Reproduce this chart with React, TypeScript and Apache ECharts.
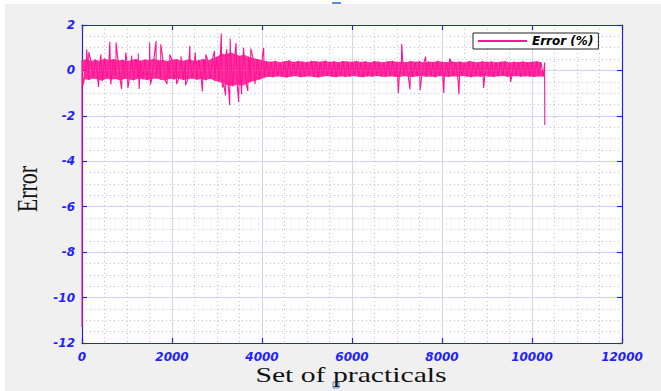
import React, { useEffect, useRef } from "react";
import * as echarts from "echarts";

// ---- data ----
const xTicks = { min: 0, max: 12000, interval: 2000 };
const yTicks = { min: -12, max: 2, interval: 2 };

const seriesName = "Error (%)";
const startValue = -11.3; // first sample at x = 0
const endX = 10280;
const endTop = 0.35;
const endValue = -2.4; // last sample

const sampleStep = 100; // envelope samples every 100 practicals
// upper edge of the noisy band (x = 0, 100, ..., 10200)
const bandUpper = [
  0.45, 0.5, 0.42, 0.48, 0.4, 0.52, 0.45, 0.5, 0.44, 0.47,
  0.4, 0.46, 0.5, 0.43, 0.48, 0.45, 0.52, 0.44, 0.46, 0.41,
  0.47, 0.5, 0.43, 0.45, 0.49, 0.42, 0.46, 0.5, 0.44, 0.52,
  0.6, 0.75, 0.7, 0.8, 0.72, 0.65, 0.7, 0.6, 0.55, 0.5,
  0.45, 0.4, 0.38, 0.42, 0.36, 0.4, 0.44, 0.37, 0.41, 0.39,
  0.36, 0.42, 0.4, 0.38, 0.43, 0.37, 0.4, 0.36, 0.41, 0.39,
  0.38, 0.42, 0.37, 0.4, 0.35, 0.41, 0.38, 0.36, 0.4, 0.42,
  0.37, 0.39, 0.36, 0.41, 0.38, 0.4, 0.35, 0.39, 0.37, 0.42,
  0.38, 0.36, 0.4, 0.37, 0.39, 0.35, 0.41, 0.38, 0.36, 0.4,
  0.37, 0.39, 0.36, 0.38, 0.4, 0.35, 0.38, 0.37, 0.39, 0.36,
  0.38, 0.4, 0.37,
];
// lower edge of the noisy band (x = 50, 150, ..., 10250)
const bandLower = [
  -0.38, -0.42, -0.35, -0.4, -0.45, -0.36, -0.41, -0.38, -0.44, -0.37,
  -0.4, -0.43, -0.36, -0.39, -0.42, -0.38, -0.35, -0.41, -0.44, -0.37,
  -0.4, -0.36, -0.42, -0.39, -0.35, -0.41, -0.38, -0.43, -0.37, -0.45,
  -0.5, -0.6, -0.65, -0.7, -0.62, -0.68, -0.6, -0.5, -0.45, -0.4,
  -0.32, -0.28, -0.3, -0.26, -0.29, -0.31, -0.27, -0.25, -0.3, -0.28,
  -0.26, -0.29, -0.31, -0.27, -0.24, -0.28, -0.3, -0.26, -0.29, -0.27,
  -0.25, -0.28, -0.3, -0.26, -0.28, -0.24, -0.27, -0.29, -0.26, -0.28,
  -0.3, -0.25, -0.27, -0.29, -0.26, -0.24, -0.28, -0.27, -0.3, -0.25,
  -0.27, -0.29, -0.26, -0.28, -0.24, -0.27, -0.3, -0.26, -0.28, -0.25,
  -0.27, -0.29, -0.26, -0.24, -0.28, -0.27, -0.25, -0.28, -0.26, -0.27,
  -0.29, -0.26, -0.28,
];
// isolated spikes
const spikeX = [
  104, 150, 420, 618, 758, 972, 1100, 1250, 1504, 1646, 1750, 1950, 2200, 2397, 2516, 2750, 2945,
  3095, 3215, 3292, 3423, 3591, 3750, 4037, 7104, 7636, 8170,
  30, 366, 640, 880, 1020, 1270, 1520, 1890, 2100, 2300, 2675, 3120, 3190, 3283, 3480, 3545,
  3684, 3844, 7030, 7290, 7513, 8040, 8376, 8925, 9525,
];
const spikeY = [
  0.93, 0.8, 0.7, 1.26, 1.23, 0.79, 0.65, 0.75, 1.23, 1.3, 1.15, 0.7, 0.62, 1.08, 0.79, 0.7, 0.86,
  1.63, 0.93, 1.4, 1.2, 1.0, 0.96, 1.0, 1.16, 0.61, 0.52,
  -0.62, -0.73, -0.62, -0.82, -0.77, -0.82, -0.62, -0.6, -0.6, -0.65, -0.93, -0.75, -1.1, -1.53,
  -1.39, -1.05, -0.9, -0.6, -0.99, -0.84, -0.87, -1.0, -1.05, -0.77, -0.5,
];

const PINK = "#ff1493";
const BLUE = "#1f1fff";

function buildMain(): number[][] {
  const pts: number[][] = [];
  bandUpper.forEach((v, i) => pts.push([i * sampleStep, v]));
  bandLower.forEach((v, i) => pts.push([i * sampleStep + sampleStep / 2, v]));
  spikeX.forEach((x, i) => pts.push([x, spikeY[i]]));
  pts.sort((a, b) => a[0] - b[0]);
  return [[0, startValue], ...pts, [endX, endTop], [endX + 5, endValue]];
}

export default function App() {
  const ref = useRef<HTMLDivElement>(null);
  useEffect(() => {
    if (!ref.current) return;
    const chart = echarts.init(ref.current, undefined, { renderer: "svg" });
    const labelStyle = {
      color: BLUE,
      fontFamily: "DejaVu Sans",
      fontWeight: "bold" as const,
      fontStyle: "italic" as const,
      fontSize: 12,
    };
    const axisCommon = {
      axisLine: { show: true, onZero: false, lineStyle: { color: BLUE, width: 1.2 } },
      axisTick: { show: true, inside: true, length: 5, lineStyle: { color: BLUE, width: 1.2 } },
    };
    const upperData = bandUpper.map((v, i) => [i * sampleStep, v]);
    const lowerData = bandLower.map((v, i) => [i * sampleStep + sampleStep / 2, v]);
    chart.setOption({
      animation: false,
      backgroundColor: "#ffffff",
      graphic: [
        { type: "rect", z: -100, shape: { x: 5, y: 4, width: 660, height: 390 }, style: { fill: "#f0f0f0" } },
        { type: "rect", shape: { x: 332, y: 2, width: 9, height: 2 }, style: { fill: "#5b8fd0" } },
        { type: "rect", shape: { x: 333, y: 382, width: 6, height: 6 }, style: { fill: "#cfe0f5", stroke: "#5b8fd0", lineWidth: 1 } },
        {
          type: "text",
          x: 351,
          y: 375,
          scaleX: 1.35,
          style: { text: "Set of practicals", fontFamily: "Liberation Serif", fontSize: 22, fill: "#111", align: "center", verticalAlign: "middle" },
        },
        {
          type: "text",
          x: 27,
          y: 189,
          rotation: Math.PI / 2,
          scaleY: 1.3,
          style: { text: "Error", fontFamily: "Liberation Serif", fontSize: 22, fill: "#111", align: "center", verticalAlign: "middle" },
        },
      ],
      grid: { left: 82, right: 39, top: 25, bottom: 48, show: true, backgroundColor: "#ffffff", borderWidth: 0 },
      legend: {
        data: [seriesName],
        left: 473,
        top: 33,
        padding: [2, 5, 2, 5],
        itemWidth: 49,
        itemHeight: 2,
        itemGap: 5,
        icon: "rect",
        backgroundColor: "#ffffff",
        borderColor: "#222",
        borderWidth: 1,
        borderRadius: 0,
        textStyle: { color: "#000", fontFamily: "DejaVu Sans", fontWeight: "bold", fontStyle: "italic", fontSize: 12 },
      },
      xAxis: [
        {
          type: "value",
          position: "bottom",
          min: xTicks.min,
          max: xTicks.max,
          interval: xTicks.interval,
          ...axisCommon,
          axisLabel: { ...labelStyle, margin: 8, formatter: (v: number) => String(v) },
          splitLine: { show: true, lineStyle: { color: "#d2d2f4", width: 1 } },
          minorTick: { show: false, splitNumber: 4 },
          minorSplitLine: { show: true, lineStyle: { color: "#c0c0ea", width: 1, type: [1, 3] } },
        },
        {
          type: "value",
          position: "top",
          min: xTicks.min,
          max: xTicks.max,
          interval: xTicks.interval,
          ...axisCommon,
          axisLabel: { show: false },
          splitLine: { show: false },
        },
      ],
      yAxis: [
        {
          type: "value",
          position: "left",
          min: yTicks.min,
          max: yTicks.max,
          interval: yTicks.interval,
          ...axisCommon,
          axisLabel: { ...labelStyle, margin: 7, formatter: (v: number) => String(v) },
          splitLine: { show: true, lineStyle: { color: "#d2d2f4", width: 1 } },
          minorTick: { show: false, splitNumber: 4 },
          minorSplitLine: { show: true, lineStyle: { color: "#c0c0ea", width: 1, type: [1, 3] } },
        },
        {
          type: "value",
          position: "right",
          min: yTicks.min,
          max: yTicks.max,
          interval: yTicks.interval,
          ...axisCommon,
          axisLabel: { show: false },
          splitLine: { show: false },
        },
      ],
      series: [
        {
          name: "bandUpper",
          type: "line",
          data: upperData,
          symbol: "none",
          lineStyle: { width: 0 },
          areaStyle: { color: PINK, opacity: 0.88, origin: 0 },
          silent: true,
        },
        {
          name: "bandLower",
          type: "line",
          data: lowerData,
          symbol: "none",
          lineStyle: { width: 0 },
          areaStyle: { color: PINK, opacity: 0.88, origin: 0 },
          silent: true,
        },
        {
          name: seriesName,
          type: "line",
          data: buildMain(),
          symbol: "none",
          color: PINK,
          lineStyle: { color: PINK, width: 1.1 },
        },
      ],
    });
    return () => chart.dispose();
  }, []);
  return <div ref={ref} style={{ position: "absolute", left: 0, top: 0, width: 661, height: 391 }} />;
}
